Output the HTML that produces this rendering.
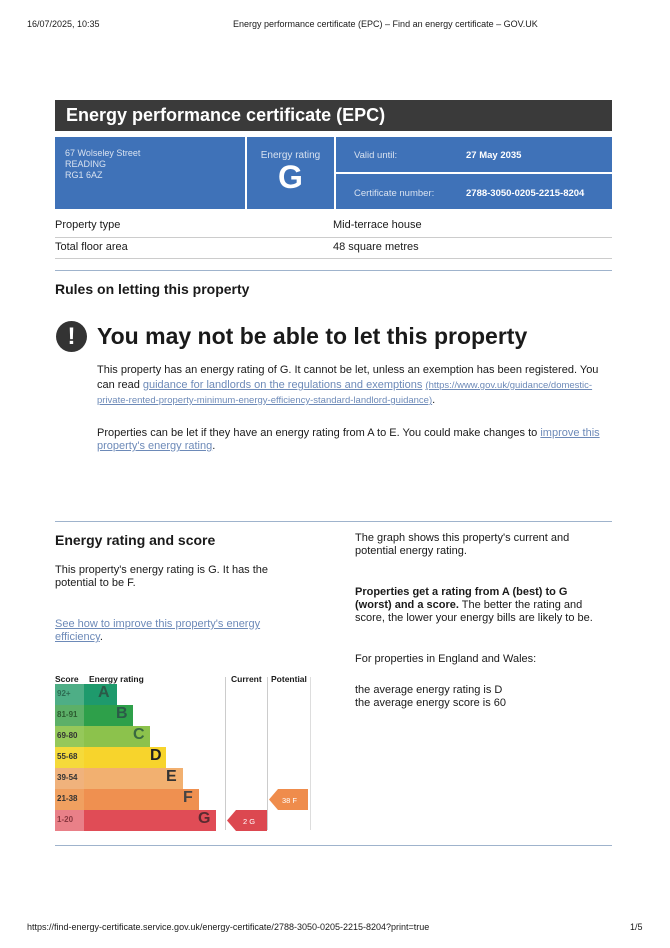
<!DOCTYPE html>
<html><head><meta charset="utf-8"><style>
body{margin:0;width:670px;height:948px;background:#fff;font-family:"Liberation Sans",sans-serif;color:#1a1a1a;position:relative;overflow:hidden}
.a{position:absolute;white-space:nowrap}
.t{font-size:11px;line-height:13px}
.lk{color:#6d8ab8;text-decoration:underline}
.row{position:absolute;height:20.9px}
</style></head><body>
<div class="a" style="left:27px;top:19px;font-size:9px">16/07/2025, 10:35</div>
<div class="a" style="left:233px;top:19px;font-size:9px">Energy performance certificate (EPC) – Find an energy certificate – GOV.UK</div>

<div class="a" style="left:55px;top:100px;width:557px;height:31px;background:#3a3a3a"></div>
<div class="a" style="left:66px;top:105px;font-size:18px;font-weight:bold;color:#fff">Energy performance certificate (EPC)</div>

<div class="a" style="left:55px;top:137px;width:190px;height:72px;background:#3f72b8"></div>
<div class="a" style="left:65px;top:148px;font-size:9px;line-height:11px;color:#d8e2f0">67 Wolseley Street<br>READING<br>RG1 6AZ</div>
<div class="a" style="left:247px;top:137px;width:87px;height:72px;background:#3f72b8"></div>
<div class="a" style="left:247px;top:150px;width:87px;text-align:center;font-size:10px;color:#d8e2f0">Energy rating</div>
<div class="a" style="left:247px;top:159px;width:87px;text-align:center;font-size:32px;font-weight:bold;color:#fff">G</div>
<div class="a" style="left:336px;top:137px;width:276px;height:35px;background:#3f72b8"></div>
<div class="a" style="left:336px;top:174px;width:276px;height:35px;background:#3f72b8"></div>
<div class="a" style="left:354px;top:150px;font-size:9.5px;color:#d8e2f0">Valid until:</div>
<div class="a" style="left:466px;top:150px;font-size:9.5px;font-weight:bold;color:#fff">27 May 2035</div>
<div class="a" style="left:354px;top:188px;font-size:9.5px;color:#d8e2f0">Certificate number:</div>
<div class="a" style="left:466px;top:188px;font-size:9.5px;font-weight:bold;color:#fff">2788-3050-0205-2215-8204</div>

<div class="a t" style="left:55px;top:219px">Property type</div>
<div class="a t" style="left:333px;top:219px">Mid-terrace house</div>
<div class="a" style="left:55px;top:237px;width:557px;height:1px;background:#ccc"></div>
<div class="a t" style="left:55px;top:241px">Total floor area</div>
<div class="a t" style="left:333px;top:241px">48 square metres</div>
<div class="a" style="left:55px;top:258px;width:557px;height:1px;background:#ccc"></div>
<div class="a" style="left:55px;top:270px;width:557px;height:1px;background:#9fb3cc"></div>

<div class="a" style="left:55px;top:281px;font-size:14px;font-weight:bold">Rules on letting this property</div>
<div class="a" style="left:56px;top:321px;width:31px;height:31px;border-radius:50%;background:#333;color:#fff;text-align:center;font-size:24px;font-weight:bold;line-height:31px">!</div>
<div class="a" style="left:97px;top:323px;font-size:23px;font-weight:bold">You may not be able to let this property</div>
<div class="a t" style="left:97px;top:363px;line-height:15px">This property has an energy rating of G. It cannot be let, unless an exemption has been registered. You<br>can read <span class="lk">guidance for landlords on the regulations and exemptions</span> <span class="lk" style="font-size:9.5px">(https://www.gov.uk/guidance/domestic-</span><br><span class="lk" style="font-size:9.5px">private-rented-property-minimum-energy-efficiency-standard-landlord-guidance)</span>.</div>
<div class="a t" style="left:97px;top:427px">Properties can be let if they have an energy rating from A to E. You could make changes to <span class="lk">improve this</span><br><span class="lk">property's energy rating</span>.</div>

<div class="a" style="left:55px;top:521px;width:557px;height:1px;background:#9fb3cc"></div>
<div class="a" style="left:55px;top:532px;font-size:14px;font-weight:bold">Energy rating and score</div>
<div class="a t" style="left:55px;top:564px">This property's energy rating is G. It has the<br>potential to be F.</div>
<div class="a t" style="left:55px;top:618px"><span class="lk">See how to improve this property's energy</span><br><span class="lk">efficiency</span>.</div>
<div class="a t" style="left:355px;top:532px">The graph shows this property's current and<br>potential energy rating.</div>
<div class="a t" style="left:355px;top:586px"><b>Properties get a rating from A (best) to G<br>(worst) and a score.</b> The better the rating and<br>score, the lower your energy bills are likely to be.</div>
<div class="a t" style="left:355px;top:653px">For properties in England and Wales:</div>
<div class="a t" style="left:355px;top:684px">the average energy rating is D<br>the average energy score is 60</div>

<div class="a" style="left:55px;top:674px;font-size:8.5px;font-weight:bold">Score</div>
<div class="a" style="left:89px;top:674px;font-size:8.5px;font-weight:bold">Energy rating</div>
<div class="a" style="left:231px;top:674px;font-size:8.5px;font-weight:bold">Current</div>
<div class="a" style="left:271px;top:674px;font-size:8.5px;font-weight:bold">Potential</div>
<div class="a" style="left:225px;top:677px;width:1px;height:153px;background:#ccc"></div>
<div class="a" style="left:267px;top:677px;width:1px;height:153px;background:#ccc"></div>
<div class="a" style="left:310px;top:677px;width:1px;height:153px;background:#ddd"></div>

<div class="row" style="left:55px;top:684px;width:29px;background:#4eae86"></div><div class="row" style="left:84px;top:684px;width:33px;background:#1e9a6c"></div>
<div class="row" style="left:55px;top:705px;width:29px;background:#5cb068"></div><div class="row" style="left:84px;top:705px;width:49px;background:#2ea04a"></div>
<div class="row" style="left:55px;top:726px;width:29px;background:#95c85a"></div><div class="row" style="left:84px;top:726px;width:66px;background:#8cc24c"></div>
<div class="row" style="left:55px;top:747px;width:29px;background:#f5da3a"></div><div class="row" style="left:84px;top:747px;width:82px;background:#f7d42c"></div>
<div class="row" style="left:55px;top:768px;width:29px;background:#f0b27c"></div><div class="row" style="left:84px;top:768px;width:99px;background:#f2b070"></div>
<div class="row" style="left:55px;top:789px;width:29px;background:#f0a060"></div><div class="row" style="left:84px;top:789px;width:115px;background:#ef9050"></div>
<div class="row" style="left:55px;top:810px;width:29px;background:#e98088"></div><div class="row" style="left:84px;top:810px;width:132px;background:#e04c56"></div>

<div class="a" style="left:57px;top:689px;font-size:8px;color:#2d6b52;font-weight:bold">92+</div>
<div class="a" style="left:57px;top:710px;font-size:8px;color:#2d5b30;font-weight:bold">81-91</div>
<div class="a" style="left:57px;top:731px;font-size:8px;color:#333;font-weight:bold">69-80</div>
<div class="a" style="left:57px;top:752px;font-size:8px;color:#333;font-weight:bold">55-68</div>
<div class="a" style="left:57px;top:773px;font-size:8px;color:#333;font-weight:bold">39-54</div>
<div class="a" style="left:57px;top:794px;font-size:8px;color:#333;font-weight:bold">21-38</div>
<div class="a" style="left:57px;top:815px;font-size:8px;color:#8a3840;font-weight:bold">1-20</div>

<div class="a" style="left:98px;top:684px;font-size:16px;font-weight:bold;color:#2b5a48">A</div>
<div class="a" style="left:116px;top:705px;font-size:16px;font-weight:bold;color:#2b5a48">B</div>
<div class="a" style="left:133px;top:726px;font-size:16px;font-weight:bold;color:#3a6a40">C</div>
<div class="a" style="left:150px;top:747px;font-size:16px;font-weight:bold;color:#222">D</div>
<div class="a" style="left:166px;top:768px;font-size:16px;font-weight:bold;color:#333">E</div>
<div class="a" style="left:183px;top:789px;font-size:16px;font-weight:bold;color:#444">F</div>
<div class="a" style="left:198px;top:810px;font-size:16px;font-weight:bold;color:#5a2a30">G</div>

<svg class="a" style="left:227px;top:810px" width="40" height="21"><polygon points="0,10.5 9,0 40,0 40,21 9,21" fill="#dc4850"/><text x="16" y="14" font-size="7.5" fill="#fff" font-family="Liberation Sans">2 G</text></svg>
<svg class="a" style="left:269px;top:789px" width="39" height="21"><polygon points="0,10.5 9,0 39,0 39,21 9,21" fill="#ef8c4c"/><text x="13" y="14" font-size="7.5" fill="#fff" font-family="Liberation Sans">38 F</text></svg>

<div class="a" style="left:55px;top:845px;width:557px;height:1px;background:#9fb3cc"></div>
<div class="a" style="left:27px;top:922px;font-size:9px">https://find-energy-certificate.service.gov.uk/energy-certificate/2788-3050-0205-2215-8204?print=true</div>
<div class="a" style="left:630px;top:922px;font-size:9px">1/5</div>
</body></html>
